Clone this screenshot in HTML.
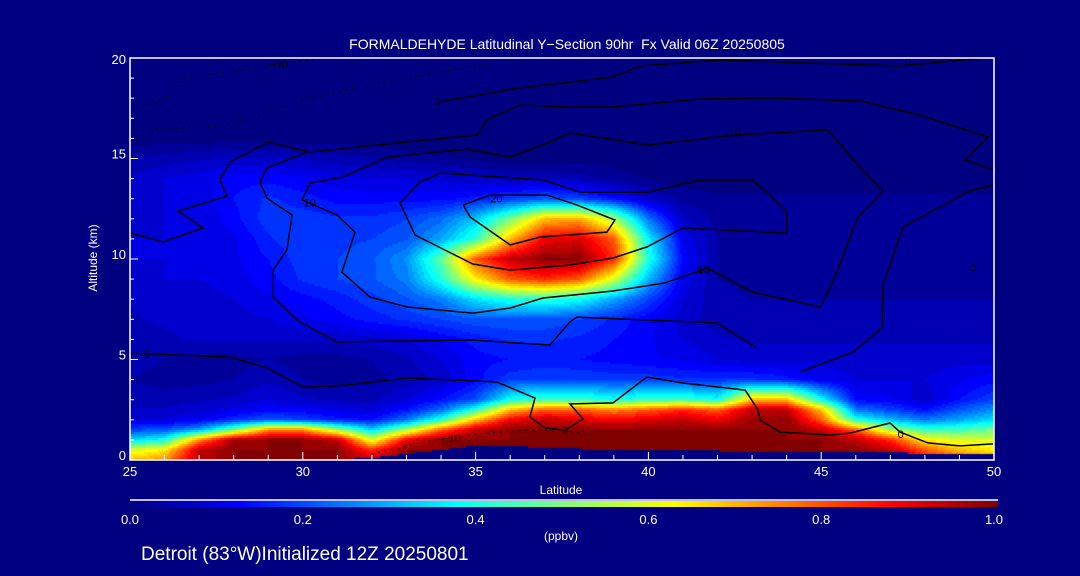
<!DOCTYPE html>
<html><head><meta charset="utf-8">
<style>
html,body{margin:0;padding:0;background:#000080;}
body{width:1080px;height:576px;position:relative;overflow:hidden;font-family:"Liberation Sans",sans-serif;color:#fff;}
.t{position:absolute;white-space:nowrap;color:#fff;}
</style></head>
<body>
<div class="t" style="left:0;width:1134px;text-align:center;top:36px;font-size:14px;">FORMALDEHYDE Latitudinal Y−Section 90hr &nbsp;Fx Valid 06Z 20250805</div>
<canvas id="heat" width="864" height="402" style="position:absolute;left:130px;top:58px;"></canvas>
<svg id="ov" width="1080" height="576" style="position:absolute;left:0;top:0"></svg>
<div class="t" style="left:93px;top:258px;font-size:12px;transform:translate(-50%,-50%) rotate(-90deg);">Altitude (km)</div>
<div class="t" style="left:561px;top:483px;font-size:12px;transform:translateX(-50%);">Latitude</div>
<div class="t" style="left:561px;top:529px;font-size:12px;transform:translateX(-50%);">(ppbv)</div>
<div class="t" style="left:141px;top:544px;font-size:19px;">Detroit (83°W)Initialized 12Z 20250801</div>
<script>
const lats=[25,26,27,28,29,30,31,32,33,34,35,36,37,38,39,40,41,42,43,44,45,46,47,48,49,50];
const alts=[0,0.5,1,1.5,2,2.5,3,4,5,6,7,8,9,10,11,12,13,14,15,16,17,18,19,20];
const terrain=[0,0,0,0,0,0,0,0.1,0.3,0.5,0.7,0.7,0.6,0.55,0.5,0.5,0.45,0.45,0.4,0.35,0.35,0.4,0.4,0.3,0.25,0.25];
const vals=[
[0.7,0.75,0.95,1,1,1,1,0.95,1,1,1,1,1,1,1,1,1,1,1,1,1,1,1,0.9,0.8,0.75],
[0.6,0.65,0.95,1,1,1,1,0.85,1,1,1,1,1,1,1,1,1,1,1,1,1,1,0.95,0.8,0.7,0.65],
[0.35,0.4,0.75,0.98,1,1,0.95,0.6,0.9,1,1,1,1,1,1,1,1,1,1,1,1,0.95,0.85,0.65,0.6,0.6],
[0.2,0.22,0.3,0.5,0.75,0.75,0.55,0.35,0.55,0.8,0.95,1,1,1,1,1,1,1,1,1,0.95,0.8,0.55,0.45,0.45,0.5],
[0.1,0.1,0.12,0.18,0.22,0.2,0.16,0.15,0.25,0.42,0.7,0.9,0.95,0.92,0.9,0.92,0.95,0.9,0.98,1,0.8,0.42,0.32,0.25,0.3,0.35],
[0.08,0.08,0.09,0.11,0.14,0.13,0.11,0.1,0.15,0.24,0.42,0.7,0.8,0.8,0.75,0.8,0.85,0.8,0.95,0.95,0.7,0.25,0.2,0.15,0.22,0.28],
[0.06,0.06,0.07,0.08,0.1,0.08,0.07,0.07,0.1,0.15,0.21,0.4,0.45,0.45,0.4,0.45,0.45,0.4,0.7,0.7,0.4,0.14,0.13,0.08,0.15,0.2],
[0.05,0.04,0.04,0.05,0.07,0.05,0.04,0.04,0.06,0.08,0.14,0.19,0.2,0.2,0.19,0.19,0.18,0.18,0.18,0.16,0.12,0.1,0.1,0.1,0.12,0.14],
[0.06,0.05,0.04,0.04,0.05,0.04,0.04,0.05,0.07,0.1,0.14,0.15,0.16,0.15,0.14,0.13,0.12,0.1,0.09,0.09,0.09,0.09,0.09,0.09,0.09,0.09],
[0.07,0.07,0.08,0.08,0.08,0.08,0.08,0.09,0.1,0.13,0.16,0.18,0.18,0.17,0.15,0.13,0.1,0.08,0.07,0.07,0.07,0.07,0.07,0.07,0.07,0.07],
[0.07,0.08,0.08,0.09,0.1,0.12,0.14,0.16,0.18,0.2,0.22,0.22,0.22,0.2,0.17,0.13,0.09,0.06,0.05,0.05,0.05,0.05,0.05,0.05,0.05,0.05],
[0.08,0.09,0.09,0.1,0.12,0.14,0.16,0.19,0.22,0.26,0.36,0.42,0.43,0.4,0.3,0.2,0.1,0.06,0.05,0.05,0.05,0.05,0.05,0.05,0.05,0.05],
[0.09,0.1,0.1,0.11,0.14,0.18,0.2,0.22,0.26,0.42,0.65,0.8,0.85,0.8,0.6,0.32,0.12,0.05,0.04,0.04,0.04,0.04,0.04,0.04,0.04,0.04],
[0.1,0.1,0.1,0.12,0.15,0.19,0.2,0.22,0.28,0.48,0.8,0.95,1,1,0.85,0.42,0.14,0.05,0.04,0.04,0.04,0.04,0.04,0.04,0.04,0.04],
[0.1,0.1,0.1,0.12,0.17,0.2,0.19,0.2,0.22,0.3,0.43,0.7,0.9,0.92,0.8,0.38,0.12,0.05,0.04,0.04,0.04,0.04,0.04,0.04,0.04,0.04],
[0.09,0.1,0.1,0.14,0.19,0.19,0.18,0.18,0.2,0.24,0.33,0.5,0.7,0.72,0.55,0.25,0.08,0.04,0.04,0.04,0.04,0.04,0.04,0.04,0.04,0.04],
[0.09,0.1,0.11,0.15,0.18,0.16,0.14,0.14,0.14,0.14,0.16,0.19,0.22,0.2,0.15,0.08,0.04,0.03,0.03,0.03,0.03,0.03,0.03,0.03,0.03,0.03],
[0.08,0.1,0.11,0.14,0.14,0.13,0.11,0.1,0.1,0.09,0.08,0.07,0.07,0.06,0.04,0.02,0.01,0.01,0.01,0.01,0.01,0.01,0.01,0.01,0.01,0.01],
[0.05,0.06,0.07,0.08,0.08,0.07,0.06,0.05,0.04,0.03,0.02,0.01,0.01,0.01,0.01,0,0,0,0,0,0,0,0,0,0,0],
[0.01,0.01,0.01,0.01,0.01,0.01,0.01,0.01,0,0,0,0,0,0,0,0,0,0,0,0,0,0,0,0,0,0],
[0,0,0,0,0,0,0,0,0,0,0,0,0,0,0,0,0,0,0,0,0,0,0,0,0,0],
[0,0,0,0,0,0,0,0,0,0,0,0,0,0,0,0,0,0,0,0,0,0,0,0,0,0],
[0,0,0,0,0,0,0,0,0,0,0,0,0,0,0,0,0,0,0,0,0,0,0,0,0,0],
[0,0,0,0,0,0,0,0,0,0,0,0,0,0,0,0,0,0,0,0,0,0,0,0,0,0]];
const xTicks=[25,30,35,40,45,50];
const yTicks=[0,5,10,15,20];
const cbTicks=[0.0,0.2,0.4,0.6,0.8,1.0];
const cLineA=[[33.9,17.8],[36.28,18.51],[38.95,19.05],[39.76,19.6],[42.07,19.9],[47.28,19.6],[49.74,20.0]];
const cLine1=[[37.73,16.27],[39.99,15.67],[42.56,16.17],[45.2,16.42],[45.98,14.83],[46.79,13.38],[46.04,12.04],[45.34,8.86],[44.97,7.61],[43.0,8.36],[41.7,9.55],[40.48,8.81],[38.98,8.41],[36.95,8.06],[36.0,7.56],[34.92,7.31],[33.02,7.61],[31.94,8.11],[31.13,9.35],[31.51,11.34],[30.99,12.19],[29.98,12.94],[30.21,13.78],[31.16,14.08],[32.44,15.07],[34.75,15.47],[36.0,15.07],[37.07,15.77],[37.73,16.27]];
const cLine20=[[34.64,12.69],[34.84,12.09],[36.0,10.7],[36.86,11.09],[38.8,11.34],[39.03,11.94],[37.93,12.69],[37.07,13.18],[35.42,13.18],[34.64,12.69]];
const cLine3=[[32.81,12.79],[33.39,13.83],[33.97,14.28],[36.95,13.93],[38.02,13.33],[39.99,13.33],[41.49,13.93],[43.0,13.93],[43.52,13.18],[44.01,12.34],[44.01,11.29],[41.0,11.54],[39.96,10.6],[38.98,10.05],[37.73,9.7],[36.0,9.45],[34.92,9.75],[33.25,11.19],[32.81,12.79]];
const cLine0=[[25.0,5.32],[27.89,5.12],[28.96,4.58],[30.01,3.63],[30.99,3.68],[33.02,4.08],[35.62,3.88],[36.72,3.08],[36.57,2.14],[37.01,1.59],[37.59,1.49],[38.11,2.04],[37.73,2.79],[38.98,2.84],[39.38,3.38],[39.96,4.13],[41.0,3.83],[42.8,3.48],[43.17,2.49],[43.23,1.99],[43.81,1.39],[45.25,1.24],[45.83,1.34],[46.99,1.84],[47.28,1.39],[48.09,0.85],[49.02,0.7],[49.97,0.8]];
const cLine5=[[25.0,11.29],[25.95,10.85],[27.11,11.54],[26.39,12.39],[27.81,13.13],[27.6,13.93],[27.89,14.83],[28.99,15.82],[30.21,15.32],[32.44,15.72],[35.07,16.17],[35.33,16.92],[36.28,17.66],[37.73,17.56],[38.95,17.56],[41.49,17.96],[43.52,18.01],[46.12,17.86],[47.86,17.16],[49.83,16.07],[49.16,14.93],[50.0,14.43]];
const cLine6=[[49.97,13.68],[49.22,13.33],[47.37,11.59],[46.79,8.71],[46.76,6.57],[45.92,5.37],[44.39,4.38]];
const cLine8=[[43.14,5.57],[41.98,6.82],[37.93,7.11],[37.73,6.87],[37.15,5.72],[34.84,5.97],[30.99,5.87],[29.86,6.92],[29.14,8.11],[29.14,9.45],[29.54,10.45],[29.69,12.19],[28.96,13.03],[28.76,13.83],[28.96,14.53],[30.12,15.32]];
const cDot1=[[25.0,17.56],[25.93,17.81],[26.53,19.0],[28.85,19.55],[30.5,20.0]];
const cDot2=[[25.0,16.42],[27.4,16.57],[28.56,17.01],[29.72,17.81],[32.23,18.76],[34.0,19.3],[35.7,19.8]];
const cDot3=[[32.0,0.3],[33.5,0.9],[35.0,1.3],[36.5,1.5],[37.5,1.5],[38.5,1.2]];
const cLabels=[["10",30.2,12.8],["20",35.6,13.0],["10",42.5,16.3],["10",41.6,9.5],["0",33.9,17.8],["0",37.6,1.5],["−10",29.3,19.7],["−10",34.3,1.1],["0",25.5,5.3],["0",49.4,9.6],["0",47.3,1.3],["0",47.5,19.8]];

const X0=130,X1=994,Y0=460,Y1=58;
function xs(lat){return X0+(lat-25)/25*(X1-X0);}
function ys(a){return Y0-a/20*(Y0-Y1);}
function jet(v){
  v=Math.max(0,Math.min(1,v));
  const st=[[0,0,0,128],[0.125,0,0,255],[0.375,0,255,255],[0.625,255,255,0],[0.875,255,0,0],[1,128,0,0]];
  for(let i=1;i<st.length;i++){ if(v<=st[i][0]){const a=st[i-1],b=st[i],t=(v-a[0])/(b[0]-a[0]);
    return 'rgb('+Math.round(a[1]+(b[1]-a[1])*t)+','+Math.round(a[2]+(b[2]-a[2])*t)+','+Math.round(a[3]+(b[3]-a[3])*t)+')';}}
  return 'rgb(128,0,0)';
}
function sample(lat,a){
  let i=Math.min(lats.length-2,Math.max(0,Math.floor(lat-lats[0])));
  let tx=(lat-lats[i])/(lats[i+1]-lats[i]);
  let j=0; while(j<alts.length-2 && a>alts[j+1]) j++;
  let ty=(a-alts[j])/(alts[j+1]-alts[j]);
  const v00=vals[j][i],v01=vals[j][i+1],v10=vals[j+1][i],v11=vals[j+1][i+1];
  return (v00*(1-tx)+v01*tx)*(1-ty)+(v10*(1-tx)+v11*tx)*ty;
}
function terr(lat){
  let i=Math.min(lats.length-2,Math.max(0,Math.floor(lat-lats[0])));
  let t=(lat-lats[i]);return terrain[i]*(1-t)+terrain[i+1]*t;
}
const ctx=document.getElementById('heat').getContext('2d');
const W=864,H=402,S=2;
for(let py=0;py<H;py+=S){for(let px=0;px<W;px+=S){
  const lat=25+(px+S/2)/W*25, a=(H-py-S/2)/H*20;
  let v=sample(lat,a);
  if(a<terr(lat)) v=0;
  v=Math.floor(v*40)/40;
  ctx.fillStyle=jet(v);ctx.fillRect(px,py,S,S);
}}
const NS='http://www.w3.org/2000/svg';
const svg=document.getElementById('ov');
function mk(tag,at){const e=document.createElementNS(NS,tag);for(const k in at)e.setAttribute(k,at[k]);svg.appendChild(e);return e;}
function poly(pts,dashed,name){
  const e=mk('polyline',{points:pts.map(p=>xs(p[0]).toFixed(1)+','+ys(p[1]).toFixed(1)).join(' '),fill:'none',stroke:'#000','stroke-width':dashed?1.2:1.5});
  if(dashed)e.setAttribute('stroke-dasharray','1.5,5');
  
  
}
poly(cLineA,false,'contour-0-upper');
poly(cLine5,false,'contour-0-mid');
poly(cLine1,false,'contour-10-outer');
poly(cLine8,false,'contour-10-lower');
poly(cLine3,false,'contour-10-inner');
poly(cLine20,false,'contour-20');
poly(cLine0,false,'contour-0-lower');
poly(cLine6,false,'contour-5-right');
poly(cDot1,true,'contour-neg10-upper');
poly(cDot2,true,'contour-neg5-upper');
poly(cDot3,true,'contour-neg10-surface');
cLabels.forEach(l=>{
  const t=mk('text',{x:xs(l[1]),y:ys(l[2])+4,'font-size':11,'text-anchor':'middle',fill:'#000','font-family':'Liberation Sans, sans-serif'});
  t.textContent=l[0];
  
  
});
const fr=mk('rect',{x:X0,y:Y1,width:X1-X0,height:Y0-Y1,fill:'none',stroke:'#fff','stroke-width':1.5});


for(let l=25;l<=50;l++){
  const big=(l%5===0);
  const tk=mk('line',{x1:xs(l),x2:xs(l),y1:Y0,y2:Y0-(big?8:5),stroke:'#fff','stroke-width':1});
  
  
}
xTicks.forEach(l=>{
  const t=mk('text',{x:xs(l),y:Y0+16,'font-size':13,'text-anchor':'middle',fill:'#fff','font-family':'Liberation Sans, sans-serif'});
  t.textContent=String(l);
  
  
});
for(let a=0;a<=20;a++){
  const big=(a%5===0);
  const tk=mk('line',{x1:X0,x2:X0+(big?8:4),y1:ys(a),y2:ys(a),stroke:'#fff','stroke-width':1});
  
  
}
yTicks.forEach(a=>{
  const t=mk('text',{x:X0-4,y:ys(a)+(a===20?6:0),'font-size':13,'text-anchor':'end',fill:'#fff','font-family':'Liberation Sans, sans-serif'});
  t.textContent=String(a);
  
  
});
const CB0=130,CB1=998;
const cbl=mk('line',{x1:CB0,x2:CB1,y1:500,y2:500,stroke:'#fff','stroke-width':1.5});


for(let i=0;i<CB1-CB0;i+=2){
  const r=mk('rect',{x:CB0+i,y:501,width:2,height:6,fill:jet(i/(CB1-CB0))});
  
  
}
cbTicks.forEach(v=>{
  const t=mk('text',{x:CB0+v*(CB1-CB0-4),y:524,'font-size':13,'text-anchor':'middle',fill:'#fff','font-family':'Liberation Sans, sans-serif'});
  t.textContent=v.toFixed(1);
  
  
});
</script>
</body></html>
